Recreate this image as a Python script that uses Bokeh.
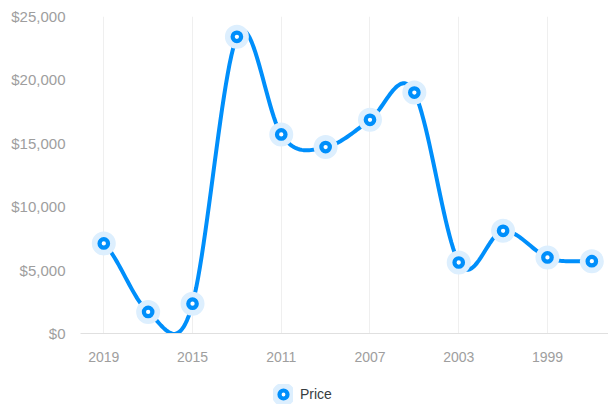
from bokeh.plotting import figure
from bokeh.layouts import column
from bokeh.models import (Range1d, FixedTicker, NumeralTickFormatter, Legend, LegendItem,
                          ColumnDataSource)
from bokeh.embed import file_html
from bokeh.resources import INLINE

years = [2019, 2017, 2015, 2013, 2011, 2009, 2007, 2005, 2003, 2001, 1999, 1997]
price = [7100, 1700, 2350, 23400, 15700, 14700, 16850, 19000, 5600, 8100, 6000, 5700]
y_ticks = [0, 5000, 10000, 15000, 20000, 25000]
series_name = "Price"

BLUE = "#008FFB"
HALO = "#DDEFFE"
GRAY = "#9e9e9e"
FONT = "Liberation Sans"

xs = list(range(len(years)))


def cardinal_spline(x, y, k=0.6, n=24):
    m = len(y)
    tang = []
    for i in range(m):
        if i == 0:
            tang.append(k * (y[1] - y[0]))
        elif i == m - 1:
            tang.append(k * (y[m - 1] - y[m - 2]))
        else:
            tang.append(k * (y[i + 1] - y[i - 1]))
    ox, oy = [], []
    for i in range(m - 1):
        for j in range(n):
            t = j / n
            h00 = 2 * t**3 - 3 * t**2 + 1
            h10 = t**3 - 2 * t**2 + t
            h01 = -2 * t**3 + 3 * t**2
            h11 = t**3 - t**2
            ox.append(x[i] + t * (x[i + 1] - x[i]))
            oy.append(h00 * y[i] + h10 * tang[i] + h01 * y[i + 1] + h11 * tang[i + 1])
    ox.append(x[-1])
    oy.append(y[-1])
    return ox, oy


sx, sy = cardinal_spline(xs, price)

p = figure(width=608, height=370, output_backend="svg", toolbar_location=None,
           x_range=Range1d(-0.525, 11.376), y_range=Range1d(0, 25000),
           min_border_left=80, min_border_right=0, min_border_top=16, min_border_bottom=37)
p.outline_line_color = None
p.background_fill_color = "white"

p.line(sx, sy, line_color=BLUE, line_width=4, line_cap="round", line_join="round")

src = ColumnDataSource(dict(x=xs, y=price))
halo_kw = dict(marker="circle", size=8.5, fill_color=HALO, line_color=HALO, line_width=15.5)
ring_kw = dict(marker="circle", size=8.5, fill_color="white", line_color=BLUE, line_width=4.2)
p.scatter("x", "y", source=src, **halo_kw)
p.scatter("x", "y", source=src, **ring_kw)

# axes
p.xaxis.ticker = FixedTicker(ticks=[i for i in xs if i % 2 == 0])
p.xaxis.major_label_overrides = {i: str(y) for i, y in zip(xs, years)}
p.xaxis.axis_line_color = "#e0e0e0"
p.xaxis.major_tick_line_color = None
p.xaxis.minor_tick_line_color = None
p.xaxis.major_label_standoff = 12
p.xaxis.major_label_text_font = FONT
p.xaxis.major_label_text_font_size = "14px"
p.xaxis.major_label_text_color = GRAY

p.yaxis.ticker = FixedTicker(ticks=y_ticks)
p.yaxis.formatter = NumeralTickFormatter(format="$0,0")
p.yaxis.axis_line_color = None
p.yaxis.major_tick_line_color = None
p.yaxis.minor_tick_line_color = None
p.yaxis.major_label_standoff = 9
p.yaxis.major_label_text_font = FONT
p.yaxis.major_label_text_font_size = "15px"
p.yaxis.major_label_text_color = GRAY

p.ygrid.grid_line_color = None
p.xgrid.grid_line_color = "#efefef"
p.xgrid.grid_line_width = 1

# legend strip (its markers fall outside this strip's ranges and only show in the legend)
q = figure(width=608, height=37, output_backend="svg", toolbar_location=None,
           x_range=Range1d(0, 1), y_range=Range1d(-2, -1),
           x_axis_location=None, y_axis_location=None,
           min_border_left=0, min_border_right=0, min_border_top=0, min_border_bottom=0)
q.outline_line_color = None
q.grid.visible = False
lh = q.scatter("x", "y", source=src, **halo_kw)
lr = q.scatter("x", "y", source=src, **ring_kw)
legend = Legend(items=[LegendItem(label=series_name, renderers=[lh, lr])],
                location=(193, 3), orientation="horizontal",
                glyph_width=20, glyph_height=20, label_standoff=7,
                padding=0, margin=0, border_line_color=None, background_fill_alpha=0,
                label_text_font=FONT, label_text_font_size="14px", label_text_color="#373d3f")
q.add_layout(legend, "center")

open("out.html", "w").write(file_html(column(p, q, spacing=0), INLINE))
